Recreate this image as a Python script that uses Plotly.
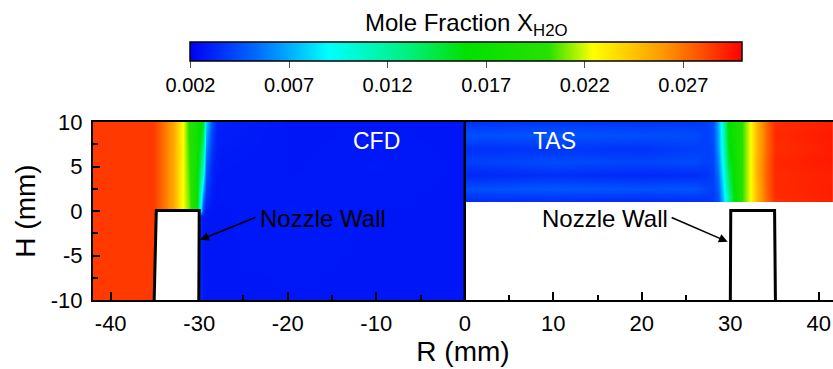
import plotly.graph_objects as go

# ---- colour scale (Tecplot-like rainbow) ----
cmin, cmax = 0.002, 0.030
cscale = [
    [0.0, "rgb(0,0,245)"],
    [0.12, "rgb(0,105,255)"],
    [0.25, "rgb(0,255,255)"],
    [0.40, "rgb(0,240,120)"],
    [0.50, "rgb(0,225,0)"],
    [0.65, "rgb(40,225,0)"],
    [0.73, "rgb(255,255,0)"],
    [0.86, "rgb(255,150,0)"],
    [1.0, "rgb(255,0,0)"],
]
cb_ticks = [0.002, 0.007, 0.012, 0.017, 0.022, 0.027]
cb_labels = ["0.002", "0.007", "0.012", "0.017", "0.022", "0.027"]

x_ticks = [-40, -30, -20, -10, 0, 10, 20, 30, 40]
x_labels = ["-40", "-30", "-20", "-10", "0", "10", "20", "30", "40"]
y_ticks = [-10, -5, 0, 5, 10]
y_labels = ["-10", "-5", "0", "5", "10"]

# ---- CFD field (left half) ----
cfd_r = [-42, -35.2, -34, -33, -32, -31.2, -30.4, -29.6, -29.2, -28.6, -28, -20, -10, -0.2, 0]
cfd_h = [-10, -0.6, 0, 5, 10]
cfd_z = [
    [0.0285, 0.0285, 0.0270, 0.0255, 0.0226, 0.0210, 0.0040, 0.0028, 0.0027, 0.0027, 0.0027, 0.0027, 0.0027, 0.0027, 0.0027],
    [0.0285, 0.0285, 0.0270, 0.0255, 0.0226, 0.0210, 0.0040, 0.0028, 0.0027, 0.0027, 0.0027, 0.0028, 0.0027, 0.0027, 0.0027],
    [0.0285, 0.0285, 0.0270, 0.0255, 0.0226, 0.0210, 0.0175, 0.0040, 0.0028, 0.0027, 0.0027, 0.0028, 0.0027, 0.0027, 0.0027],
    [0.0285, 0.0285, 0.0270, 0.0255, 0.0227, 0.0205, 0.0178, 0.0110, 0.0050, 0.0032, 0.0028, 0.0027, 0.0028, 0.0027, 0.0027],
    [0.0285, 0.0285, 0.0270, 0.0255, 0.0228, 0.0200, 0.0180, 0.0155, 0.0080, 0.0045, 0.0030, 0.0027, 0.0027, 0.0027, 0.0027],
]

# ---- TAS field (right half, measured for H >= 1 mm) ----
tas_r = [0, 0.2, 10, 20, 26, 27.2, 28, 28.6, 29.2, 29.7, 30.5, 31.4, 32.2, 33, 34, 35, 42]
tas_h = [1.1, 1.3, 2.5, 4, 5.5, 7, 8.5, 10]
tas_z = [
    [0.0035, 0.0035, 0.0036, 0.0035, 0.0036, 0.0037, 0.0038, 0.0045, 0.0075, 0.0115, 0.0165, 0.0205, 0.0223, 0.0250, 0.0272, 0.0288, 0.0292],
    [0.0035, 0.0035, 0.0036, 0.0035, 0.0036, 0.0037, 0.0038, 0.0045, 0.0075, 0.0115, 0.0165, 0.0205, 0.0223, 0.0250, 0.0272, 0.0288, 0.0292],
    [0.0045, 0.0045, 0.0048, 0.0046, 0.0047, 0.0042, 0.0040, 0.0050, 0.0080, 0.0125, 0.0168, 0.0205, 0.0223, 0.0250, 0.0273, 0.0289, 0.0293],
    [0.0032, 0.0032, 0.0035, 0.0033, 0.0034, 0.0036, 0.0040, 0.0055, 0.0088, 0.0135, 0.0172, 0.0205, 0.0223, 0.0252, 0.0274, 0.0289, 0.0292],
    [0.0040, 0.0040, 0.0044, 0.0042, 0.0044, 0.0040, 0.0042, 0.0060, 0.0095, 0.0145, 0.0175, 0.0205, 0.0223, 0.0252, 0.0273, 0.0290, 0.0294],
    [0.0035, 0.0035, 0.0037, 0.0036, 0.0040, 0.0040, 0.0043, 0.0065, 0.0100, 0.0152, 0.0178, 0.0205, 0.0223, 0.0250, 0.0272, 0.0288, 0.0293],
    [0.0045, 0.0045, 0.0047, 0.0045, 0.0044, 0.0040, 0.0045, 0.0068, 0.0103, 0.0158, 0.0180, 0.0205, 0.0223, 0.0250, 0.0272, 0.0289, 0.0294],
    [0.0036, 0.0036, 0.0038, 0.0037, 0.0038, 0.0040, 0.0045, 0.0070, 0.0105, 0.0160, 0.0180, 0.0205, 0.0223, 0.0250, 0.0272, 0.0288, 0.0292],
]

# nozzle wall outlines (R, H corners)
left_wall_r = [-35.1, -34.85, -30.0, -30.05]
right_wall_r = [30.0, 30.05, 35.0, 35.1]
wall_h = [-10.5, 0.05, 0.05, -10.5]

font = "Liberation Sans, Arial, sans-serif"

fig = go.Figure()
fig.add_trace(go.Heatmap(x=cfd_r, y=cfd_h, z=cfd_z, zsmooth="best",
                         colorscale=cscale, zmin=cmin, zmax=cmax, showscale=False,
                         hoverinfo="skip"))
fig.add_trace(go.Heatmap(x=tas_r, y=tas_h, z=tas_z, zsmooth="best",
                         colorscale=cscale, zmin=cmin, zmax=cmax,
                         hoverinfo="skip",
                         colorbar=dict(orientation="h", x=0.5047, xanchor="center",
                                       y=1.448, yanchor="top", ypad=0, xpad=0,
                                       lenmode="pixels", len=552, thickness=19,
                                       outlinecolor="black", outlinewidth=1.5,
                                       tickvals=cb_ticks, ticktext=cb_labels,
                                       ticks="outside", ticklen=7, tickcolor="#555",
                                       tickfont=dict(family=font, size=20, color="black"))))

for wr in (left_wall_r, right_wall_r):
    path = "M {} {} L {} {} L {} {} L {} {} Z".format(
        wr[0], wall_h[0], wr[1], wall_h[1], wr[2], wall_h[2], wr[3], wall_h[3])
    fig.add_shape(type="path", path=path, xref="x", yref="y",
                  fillcolor="white", line=dict(color="black", width=3))

fig.add_shape(type="line", x0=0, x1=0, y0=-10, y1=10, xref="x", yref="y",
              line=dict(color="black", width=2.5))

# keep the open right side of the frame clean below the TAS field
fig.add_shape(type="rect", x0=41.3, x1=41.8, y0=-9.85, y1=0.95, xref="x", yref="y",
              fillcolor="white", line=dict(width=0), layer="above")

fig.add_annotation(x=-10.0, y=7.86, text="CFD", showarrow=False,
                   font=dict(family=font, size=23, color="white"))
fig.add_annotation(x=10.1, y=7.86, text="TAS", showarrow=False,
                   font=dict(family=font, size=23, color="white"))

# "Nozzle Wall" labels and arrows
fig.add_annotation(x=-16.0, y=-0.87, text="Nozzle Wall", showarrow=False,
                   font=dict(family=font, size=24, color="black"))
fig.add_annotation(x=15.8, y=-0.87, text="Nozzle Wall", showarrow=False,
                   font=dict(family=font, size=24, color="black"))
fig.add_annotation(x=-29.9, y=-3.24, ax=-23.5, ay=-0.65, axref="x", ayref="y",
                   text="", showarrow=True, arrowhead=2, arrowsize=1.1,
                   arrowwidth=1.6, arrowcolor="black")
fig.add_annotation(x=29.7, y=-3.46, ax=23.2, ay=-0.65, axref="x", ayref="y",
                   text="", showarrow=True, arrowhead=2, arrowsize=1.1,
                   arrowwidth=1.6, arrowcolor="black")

fig.add_annotation(x=0.5047, y=1.545, xref="paper", yref="paper",
                   text="Mole Fraction X<sub>H2O</sub>", showarrow=False,
                   yanchor="middle",
                   font=dict(family=font, size=24, color="black"))

fig.update_layout(
    width=833, height=369,
    margin=dict(l=93, r=0, t=122, b=69),
    paper_bgcolor="white", plot_bgcolor="white",
    showlegend=False,
    xaxis=dict(range=[-42.0, 41.6], tickvals=x_ticks, ticktext=x_labels,
               ticks="inside", ticklen=8, tickcolor="black", tickwidth=1.5,
               minor=dict(dtick=5, ticks="inside", ticklen=5, tickcolor="black", tickwidth=1.5),
               showline=True, linecolor="black", linewidth=2, mirror=True,
               showgrid=False, zeroline=False, ticklabeloverflow="allow",
               ticklabelstandoff=3,
               tickfont=dict(family=font, size=22, color="black"),
               title=dict(text="R (mm)", font=dict(family=font, size=28, color="black"), standoff=3)),
    yaxis=dict(range=[-10, 10], tickvals=y_ticks, ticktext=y_labels,
               ticks="inside", ticklen=7, tickcolor="black", tickwidth=1.5,
               minor=dict(dtick=2.5, ticks="inside", ticklen=5, tickcolor="black", tickwidth=1.5),
               showline=True, linecolor="black", linewidth=2, mirror=False,
               showgrid=False, zeroline=False, ticklabelstandoff=4,
               tickfont=dict(family=font, size=22, color="black"),
               title=dict(text="H (mm)", font=dict(family=font, size=28, color="black"), standoff=7)),
)

fig.write_html("out.html")
